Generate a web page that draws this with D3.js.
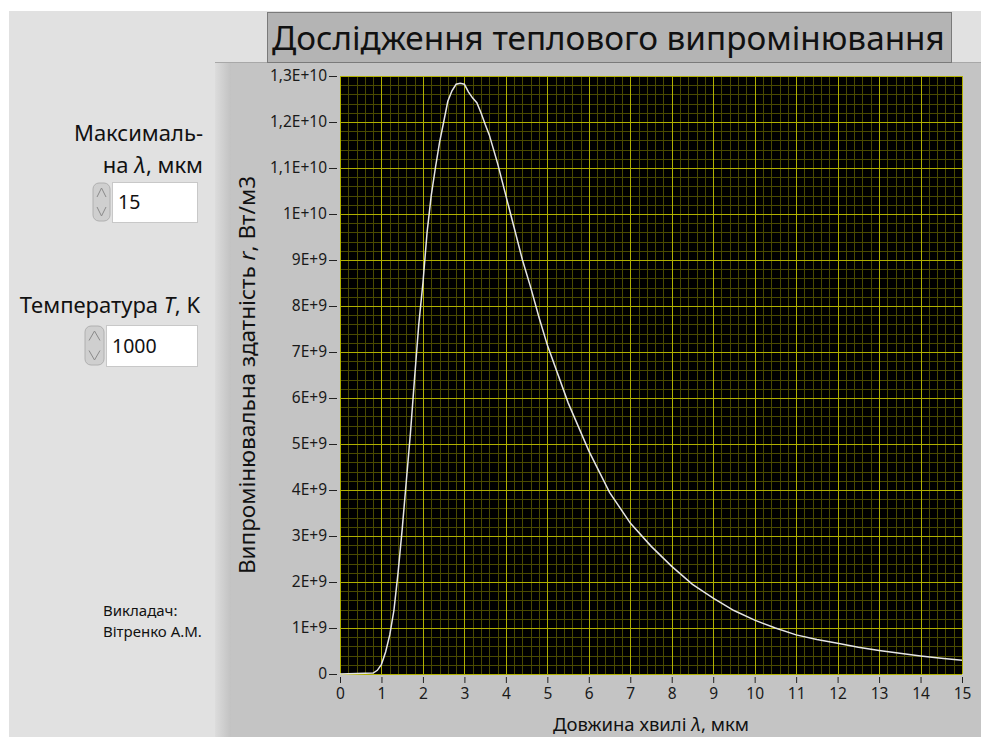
<!DOCTYPE html>
<html>
<head>
<meta charset="utf-8">
<script src="https://cdn.jsdelivr.net/npm/d3@7"></script>
<style>
  body { margin: 0; background: #ffffff; }
  svg text { font-family: "Noto Sans", "Open Sans", sans-serif; }
</style>
</head>
<body>
<div id="chart"></div>
<script>
// canvas
const width = 981,
  height = 737

// data (wavelength, mkm / emittance, W/m3)
const lambda = [0, 0.8, 0.9, 1.0, 1.1, 1.2, 1.3, 1.4, 1.5, 1.6, 1.7, 1.8, 1.9, 2.0, 2.1, 2.2, 2.3, 2.4, 2.5,
  2.6, 2.7, 2.8, 2.9, 3.0, 3.1, 3.2, 3.3, 3.4, 3.5, 3.6, 3.8, 4.0, 4.2, 4.4, 4.6, 4.8, 5.0, 5.5, 6.0, 6.5,
  7.0, 7.5, 8.0, 8.5, 9.0, 9.5, 10, 10.5, 11, 11.5, 12, 12.5, 13, 13.5, 14, 14.5, 15]
const emittance = [0, 0.02e9, 0.08e9, 0.21e9, 0.48e9, 0.85e9, 1.38e9, 2.2e9, 3.15e9, 4.2e9, 5.25e9, 6.45e9, 7.6e9,
  8.5e9, 9.6e9, 10.4e9, 11.0e9, 11.55e9, 12.0e9, 12.45e9, 12.68e9, 12.82e9, 12.84e9, 12.82e9, 12.65e9, 12.52e9,
  12.42e9, 12.2e9, 11.95e9, 11.72e9, 11.1e9, 10.4e9, 9.7e9, 9.0e9, 8.4e9, 7.75e9, 7.15e9, 5.9e9, 4.85e9, 3.95e9,
  3.28e9, 2.78e9, 2.34e9, 1.95e9, 1.65e9, 1.38e9, 1.17e9, 1.0e9, 0.85e9, 0.75e9, 0.67e9, 0.58e9, 0.51e9, 0.45e9,
  0.39e9, 0.34e9, 0.30e9]

const xTicks = d3.range(0, 16)
const yTicks = d3.range(0, 14).map(i => i * 1e9)
const yTickLabels = ['0', '1E+9', '2E+9', '3E+9', '4E+9', '5E+9', '6E+9', '7E+9', '8E+9', '9E+9',
  '1E+10', '1,1E+10', '1,2E+10', '1,3E+10']

const title = 'Дослідження теплового випромінювання'
const xTitle = ['Довжина хвилі ', 'λ', ', мкм']
const yTitle = ['Випромінювальна здатність ', 'r', ', Вт/м3']
const lambdaMax = '15'
const temperature = '1000'
const teacher = ['Викладач:', 'Вітренко А.М.']

const plot = { left: 340, right: 962, top: 76, bottom: 674 }

const xScale = d3.scaleLinear().domain([0, 15]).range([plot.left, plot.right])
const yScale = d3.scaleLinear().domain([0, 1.3e10]).range([plot.bottom, plot.top])

let svg = d3.select('#chart')
  .append('svg')
  .attr('width', width)
  .attr('height', height)

// backgrounds
svg.append('rect').attr('x', 9).attr('y', 11).attr('width', width - 9).attr('height', height - 11)
  .attr('fill', '#e1e1e1')

let defs = svg.append('defs')
let grad = defs.append('linearGradient').attr('id', 'edge')
grad.append('stop').attr('offset', '0%').attr('stop-color', '#dcdcdc')
grad.append('stop').attr('offset', '100%').attr('stop-color', '#c2c2c2')

svg.append('rect').attr('x', 215).attr('y', 62).attr('width', width - 215).attr('height', height - 62)
  .attr('fill', '#c4c4c4')
svg.append('rect').attr('x', 215).attr('y', 62).attr('width', 16).attr('height', height - 62)
  .attr('fill', 'url(#edge)')
svg.append('line').attr('x1', 215).attr('x2', width).attr('y1', 62.5).attr('y2', 62.5)
  .attr('stroke', '#a8a8a8')

// title box
svg.append('rect').attr('x', 267.5).attr('y', 12.5).attr('width', 684).attr('height', 50)
  .attr('fill', '#b4b4b4').attr('stroke', '#7a7a7a')
let titleText = svg.append('text').attr('x', 272).attr('y', 50)
  .attr('font-size', 30).attr('fill', '#111').text(title)
let tw = titleText.node().getComputedTextLength()
titleText.attr('font-size', 30 * 673 / tw)

// plot background
svg.append('rect').attr('x', plot.left).attr('y', plot.top)
  .attr('width', plot.right - plot.left).attr('height', plot.bottom - plot.top)
  .attr('fill', '#000')

// minor grid
const xMinor = d3.range(0, 76).map(i => i * 0.2)
const yMinor = d3.range(0, 66).map(i => i * 0.2e9)
let grid = svg.append('g')
grid.selectAll('.xm').data(xMinor).enter().append('line')
  .attr('x1', d => Math.round(xScale(d)) + 0.5).attr('x2', d => Math.round(xScale(d)) + 0.5)
  .attr('y1', plot.top).attr('y2', plot.bottom)
  .attr('stroke', '#4a4a00')
grid.selectAll('.ym').data(yMinor).enter().append('line')
  .attr('y1', d => Math.round(yScale(d)) + 0.5).attr('y2', d => Math.round(yScale(d)) + 0.5)
  .attr('x1', plot.left).attr('x2', plot.right)
  .attr('stroke', '#4a4a00')
// major grid
grid.selectAll('.xM').data(xTicks).enter().append('line')
  .attr('x1', d => Math.round(xScale(d)) + 0.5).attr('x2', d => Math.round(xScale(d)) + 0.5)
  .attr('y1', plot.top).attr('y2', plot.bottom)
  .attr('stroke', '#b0b000')
grid.selectAll('.yM').data(yTicks).enter().append('line')
  .attr('y1', d => Math.round(yScale(d)) + 0.5).attr('y2', d => Math.round(yScale(d)) + 0.5)
  .attr('x1', plot.left).attr('x2', plot.right)
  .attr('stroke', '#b0b000')

// curve
const points = lambda.map((l, i) => [l, emittance[i]])
svg.append('path')
  .datum(points)
  .attr('d', d3.line().x(d => xScale(d[0])).y(d => yScale(d[1])))
  .attr('fill', 'none')
  .attr('stroke', '#e6e6e6')
  .attr('stroke-width', 1.5)

// axes
const axisL = d3.axisLeft(yScale).tickValues(yTicks).tickSize(8).tickPadding(2)
  .tickFormat((d, i) => yTickLabels[i])
const axisB = d3.axisBottom(xScale).tickValues(xTicks).tickSize(6).tickPadding(5)
  .tickFormat(d => d)

let gy = svg.append('g').attr('transform', `translate(${plot.left - 3},0)`).call(axisL)
let gx = svg.append('g').attr('transform', `translate(0,${plot.bottom + 3})`).call(axisB)
gy.select('.domain').remove()
gx.select('.domain').remove()
svg.selectAll('.tick line').attr('stroke', '#222')
svg.selectAll('.tick text').attr('font-size', 15.5).attr('fill', '#1a1a1a')
  .attr('font-family', '"Noto Sans", "Open Sans", sans-serif')

// axis titles
let xt = svg.append('text').attr('x', 651).attr('y', 731).attr('text-anchor', 'middle')
  .attr('font-size', 18.5).attr('fill', '#111')
xTitle.forEach((s, i) => xt.append('tspan').attr('font-style', i === 1 ? 'italic' : null).text(s))

let yt = svg.append('text').attr('transform', 'translate(255,375) rotate(-90)').attr('text-anchor', 'middle')
  .attr('font-size', 22.5).attr('fill', '#111')
yTitle.forEach((s, i) => yt.append('tspan').attr('font-style', i === 1 ? 'italic' : null).text(s))

// left controls
svg.append('text').attr('x', 203).attr('y', 141).attr('text-anchor', 'end')
  .attr('font-size', 22).attr('fill', '#111').text('Максималь-')
let lbl2 = svg.append('text').attr('x', 203).attr('y', 173).attr('text-anchor', 'end')
  .attr('font-size', 22).attr('fill', '#111')
lbl2.append('tspan').text('на ')
lbl2.append('tspan').attr('font-style', 'italic').text('λ')
lbl2.append('tspan').text(', мкм')

let lbl3 = svg.append('text').attr('x', 200).attr('y', 313).attr('text-anchor', 'end')
  .attr('font-size', 22).attr('fill', '#111')
lbl3.append('tspan').text('Температура ')
lbl3.append('tspan').attr('font-style', 'italic').text('T')
lbl3.append('tspan').text(', K')

let drawControl = (sx, bx, y, h, value) => {
  let g = svg.append('g')
  // spinner
  g.append('rect').attr('x', sx).attr('y', y + 1).attr('width', bx - sx - 2).attr('height', h - 2)
    .attr('rx', 6).attr('fill', '#cfcfcf').attr('stroke', '#b0b0b0')
  g.append('path').attr('d', `M${sx + 4},${y + h / 2 - 5} L${sx + (bx - sx - 2) / 2},${y + 6} L${bx - 6},${y + h / 2 - 5}`)
    .attr('fill', 'none').attr('stroke', '#8a8a8a')
  g.append('path').attr('d', `M${sx + 4},${y + h / 2 + 5} L${sx + (bx - sx - 2) / 2},${y + h - 6} L${bx - 6},${y + h / 2 + 5}`)
    .attr('fill', 'none').attr('stroke', '#8a8a8a')
  // box
  g.append('rect').attr('x', bx + 0.5).attr('y', y + 0.5).attr('width', 197 - bx).attr('height', h)
    .attr('fill', '#fff').attr('stroke', '#c8c8c8')
  g.append('text').attr('x', bx + 6).attr('y', y + h / 2 + 7).attr('font-size', 19.5).attr('fill', '#111')
    .text(value)
}
drawControl(93, 112, 182, 40, lambdaMax)
drawControl(85, 106, 325, 41, temperature)

svg.selectAll('.teacher').data(teacher).enter().append('text')
  .attr('x', 103).attr('y', (d, i) => 616 + i * 21)
  .attr('font-size', 15).attr('fill', '#111').text(d => d)
</script>
</body>
</html>
